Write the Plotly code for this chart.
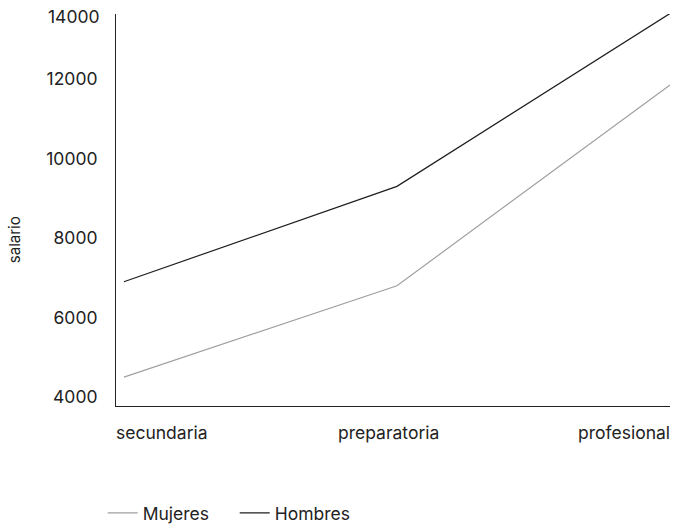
"""Salario por nivel de estudios, mujeres vs hombres."""
import plotly.graph_objects as go

niveles = ["secundaria", "preparatoria", "profesional"]
mujeres = [4500, 6800, 11850]
hombres = [6900, 9300, 13650]
y_ticks = [4000, 6000, 8000, 10000, 12000]
y_top_label = "14000"

FONT = "Inter"
TEXT = "#222222"
SIZE = 17.5

fig = go.Figure()
fig.add_trace(go.Scatter(x=niveles, y=mujeres, name="Mujeres", mode="lines",
                         line=dict(color="#a0a0a0", width=1.2)))
fig.add_trace(go.Scatter(x=niveles, y=hombres, name="Hombres", mode="lines",
                         line=dict(color="#1e1e1e", width=1.2)))

# category labels: first left-aligned, middle centered, last right-aligned
shifts = {"left": -10, "center": -8, "right": 2}
for nivel, anchor in zip(niveles, ["left", "center", "right"]):
    fig.add_annotation(x=nivel, xref="x", y=0, yref="paper", text=nivel,
                       showarrow=False, xanchor=anchor, yanchor="top",
                       yshift=-14, xshift=shifts[anchor],
                       font=dict(family=FONT, size=SIZE, color=TEXT))

# top tick label sits just inside the frame
fig.add_annotation(x=0, xref="paper", y=1, yref="paper", text=y_top_label,
                   showarrow=False, xanchor="right", yanchor="middle",
                   xshift=-14, yshift=-2, font=dict(family=FONT, size=SIZE, color=TEXT))

fig.add_annotation(x=0, xref="paper", y=0.423, yref="paper", text="salario",
                   textangle=-90, showarrow=False, xanchor="center",
                   xshift=-102, font=dict(family=FONT, size=15, color=TEXT))

fig.update_xaxes(range=[-0.029, 2.0], showticklabels=False, showgrid=False,
                 zeroline=False, showline=True, linecolor="#222", linewidth=1,
                 automargin=False)
fig.update_yaxes(range=[3774, 13636], tickvals=y_ticks,
                 ticktext=[str(v) for v in y_ticks], showgrid=False,
                 zeroline=False, showline=True, linecolor="#222", linewidth=1,
                 ticklabelstandoff=14, automargin=False,
                 tickfont=dict(family=FONT, size=SIZE, color=TEXT))

fig.update_traces(cliponaxis=False)
fig.update_layout(
    width=674, height=525,
    margin=dict(l=116, r=4, t=14, b=119, autoexpand=False),
    plot_bgcolor="white", paper_bgcolor="white",
    font=dict(family=FONT, size=SIZE, color=TEXT),
    showlegend=True,
    legend=dict(orientation="h", x=-0.024, xanchor="left", y=-0.273,
                yanchor="middle", itemwidth=30, entrywidth=87,
                font=dict(family=FONT, size=SIZE)),
)

# drop the default 8px body margin so the figure fills the window
fig.write_html("out.html", config={"displayModeBar": False},
               post_script="document.body.style.margin='0';document.body.style.overflow='hidden';")
